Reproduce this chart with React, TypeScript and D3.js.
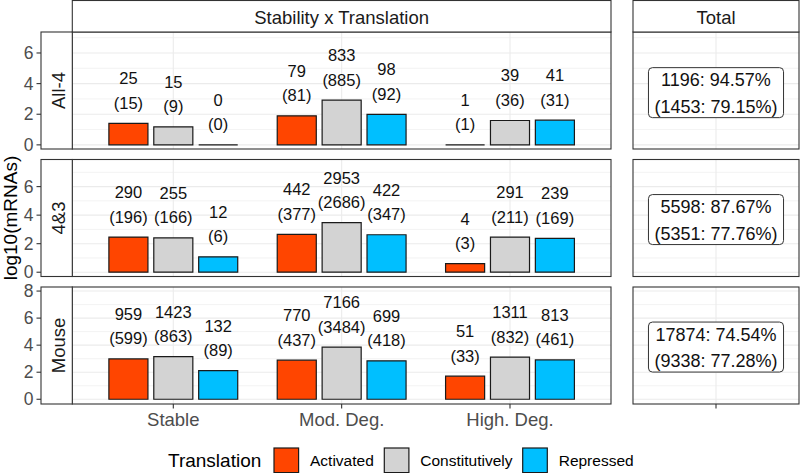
import React from 'react';
import * as d3 from 'd3';

const categories = ['Stable', 'Mod. Deg.', 'High. Deg.'];
const rows = ['All-4', '4&3', 'Mouse'];
const translations = ['Activated', 'Constitutively', 'Repressed'];
const fillColors = ['#FF4500', '#D3D3D3', '#00BFFF'];

// [category][translation]
const countsAll4 = [[25, 15, 0], [79, 833, 98], [1, 39, 41]];
const parenAll4 = [[15, 9, 0], [81, 885, 92], [1, 36, 31]];
const counts43 = [[290, 255, 12], [442, 2953, 422], [4, 291, 239]];
const paren43 = [[196, 166, 6], [377, 2686, 347], [3, 211, 169]];
const countsMouse = [[959, 1423, 132], [770, 7166, 699], [51, 1311, 813]];
const parenMouse = [[599, 863, 89], [437, 3484, 418], [33, 832, 461]];

const totalLine1 = ['1196: 94.57%', '5598: 87.67%', '17874: 74.54%'];
const totalLine2 = ['(1453: 79.15%)', '(5351: 77.76%)', '(9338: 77.28%)'];
const totalLabelY = [3.41, 3.69, 3.86];
const yDomains = [[-0.27, 7.37], [-0.3, 7.9], [-0.35, 8.3]];
const yTicks = [[0, 2, 4, 6], [0, 2, 4, 6], [0, 2, 4, 6, 8]];

const rowCounts = [countsAll4, counts43, countsMouse];
const rowParens = [parenAll4, paren43, parenMouse];

const FONT = '"Liberation Sans", Arial, Helvetica, sans-serif';
const W = 800;
const H = 473;
const stripX0 = 41;
const panelX0 = 72.3;
const panelX1 = 611;
const totX0 = 633;
const totX1 = 799;
const stripTop = 0.5;
const rowTops = [32, 159.5, 287];
const rowH = 117;
const BORDER = '#333333';
const GRID = '#EBEBEB';

function measure(text: string, font: string): number {
  const c = document.createElement('canvas').getContext('2d');
  if (!c) return text.length * 9;
  c.font = font;
  return c.measureText(text).width;
}

export default function App() {
  const x = d3.scalePoint<string>().domain(categories).range([panelX0, panelX1]).padding(0.6);
  const step = x.step();
  const dodge = d3
    .scaleBand<string>()
    .domain(translations)
    .range([-0.4 * step, 0.4 * step])
    .paddingInner(0.13)
    .paddingOuter(0.065);
  const totCenter = (totX0 + totX1) / 2;
  const boxFont = `18px ${FONT}`;

  const elems: React.ReactNode[] = [];

  rows.forEach((row, ri) => {
    const top = rowTops[ri];
    const bottom = top + rowH;
    const y = d3.scaleLinear().domain(yDomains[ri]).range([bottom, top]);
    const [d0, d1] = yDomains[ri];
    const majors = yTicks[ri];
    const minors = d3.range(Math.ceil(d0), Math.floor(d1) + 1).filter((v) => !majors.includes(v));

    [
      [panelX0, panelX1],
      [totX0, totX1],
    ].forEach(([a, b], pi) => {
      elems.push(<rect key={`bg${ri}${pi}`} x={a} y={top} width={b - a} height={rowH} fill="white" />);
      minors.forEach((v) =>
        elems.push(
          <line key={`mn${ri}${pi}${v}`} x1={a} x2={b} y1={y(v)} y2={y(v)} stroke={GRID} strokeWidth={0.6} />
        )
      );
      majors.forEach((v) =>
        elems.push(
          <line key={`mj${ri}${pi}${v}`} x1={a} x2={b} y1={y(v)} y2={y(v)} stroke={GRID} strokeWidth={1.1} />
        )
      );
    });
    categories.forEach((c) =>
      elems.push(
        <line key={`vg${ri}${c}`} x1={x(c)} x2={x(c)} y1={top} y2={bottom} stroke={GRID} strokeWidth={1.1} />
      )
    );
    elems.push(
      <line key={`vgt${ri}`} x1={totCenter} x2={totCenter} y1={top} y2={bottom} stroke={GRID} strokeWidth={1.1} />
    );

    // bars
    categories.forEach((c, ci) => {
      translations.forEach((t, ti) => {
        const n = rowCounts[ri][ci][ti];
        const p = rowParens[ri][ci][ti];
        const v = n > 0 ? Math.log10(n) : 0;
        const bx = (x(c) as number) + (dodge(t) as number);
        const bw = dodge.bandwidth();
        const y0 = y(0);
        const y1 = y(v);
        elems.push(
          <path
            key={`bar${ri}${ci}${ti}`}
            d={`M${bx},${y0}V${y1}H${bx + bw}V${y0}Z`}
            fill={fillColors[ti]}
            stroke="#1a1a1a"
            strokeWidth={1.2}
          />
        );
        const cx = bx + bw / 2;
        elems.push(
          <text key={`l1${ri}${ci}${ti}`} x={cx} y={y1 - 39} textAnchor="middle" fontSize={16.5} fill="#111">
            {String(n)}
          </text>
        );
        elems.push(
          <text key={`l2${ri}${ci}${ti}`} x={cx} y={y1 - 14.5} textAnchor="middle" fontSize={16.5} fill="#111">
            {`(${p})`}
          </text>
        );
      });
    });

    // total label
    const cy = y(totalLabelY[ri]);
    const tw = Math.max(measure(totalLine1[ri], boxFont), measure(totalLine2[ri], boxFont));
    const bw = tw + 12;
    elems.push(
      <rect
        key={`box${ri}`}
        x={totCenter - bw / 2}
        y={cy - 25}
        width={bw}
        height={50}
        rx={4}
        ry={4}
        fill="white"
        stroke="#333"
        strokeWidth={1}
      />
    );
    elems.push(
      <text key={`t1${ri}`} x={totCenter} y={cy - 6.5} textAnchor="middle" fontSize={18} fill="#111">
        {totalLine1[ri]}
      </text>
    );
    elems.push(
      <text key={`t2${ri}`} x={totCenter} y={cy + 20} textAnchor="middle" fontSize={18} fill="#111">
        {totalLine2[ri]}
      </text>
    );

    // borders
    elems.push(
      <rect key={`pb${ri}`} x={panelX0} y={top} width={panelX1 - panelX0} height={rowH} fill="none" stroke={BORDER} strokeWidth={1.1} />
    );
    elems.push(
      <rect key={`tb${ri}`} x={totX0} y={top} width={totX1 - totX0} height={rowH} fill="none" stroke={BORDER} strokeWidth={1.1} />
    );
    // left strip
    elems.push(
      <rect key={`ls${ri}`} x={stripX0} y={top} width={panelX0 - stripX0} height={rowH} fill="white" stroke={BORDER} strokeWidth={1.1} />
    );
    elems.push(
      <text
        key={`lst${ri}`}
        transform={`translate(64.5,${top + rowH / 2}) rotate(-90)`}
        textAnchor="middle"
        fontSize={18.5}
        fill="#1a1a1a"
      >
        {row}
      </text>
    );
    // y ticks
    majors.forEach((v) => {
      elems.push(
        <line key={`yt${ri}${v}`} x1={stripX0 - 4.5} x2={stripX0} y1={y(v)} y2={y(v)} stroke={BORDER} strokeWidth={1.1} />
      );
      elems.push(
        <text key={`ytl${ri}${v}`} x={33.5} y={y(v) + 6.2} textAnchor="end" fontSize={17.5} fill="#4D4D4D">
          {String(v)}
        </text>
      );
    });
  });

  // top strips
  const lastBottom = rowTops[2] + rowH;
  elems.push(
    <rect key="ts1" x={panelX0} y={stripTop} width={panelX1 - panelX0} height={rowTops[0] - stripTop} fill="white" stroke={BORDER} strokeWidth={1.1} />
  );
  elems.push(
    <text key="ts1t" x={(panelX0 + panelX1) / 2} y={23.5} textAnchor="middle" fontSize={18.5} fill="#1a1a1a">
      Stability x Translation
    </text>
  );
  elems.push(
    <rect key="ts2" x={totX0} y={stripTop} width={totX1 - totX0} height={rowTops[0] - stripTop} fill="white" stroke={BORDER} strokeWidth={1.1} />
  );
  elems.push(
    <text key="ts2t" x={totCenter} y={23.5} textAnchor="middle" fontSize={18.5} fill="#1a1a1a">
      Total
    </text>
  );

  // x axis
  categories.forEach((c) => {
    elems.push(
      <line key={`xt${c}`} x1={x(c)} x2={x(c)} y1={lastBottom} y2={lastBottom + 4.5} stroke={BORDER} strokeWidth={1.1} />
    );
    elems.push(
      <text key={`xtl${c}`} x={x(c)} y={426} textAnchor="middle" fontSize={18.5} fill="#4D4D4D">
        {c}
      </text>
    );
  });
  elems.push(
    <line key="xtt" x1={totCenter} x2={totCenter} y1={lastBottom} y2={lastBottom + 4.5} stroke={BORDER} strokeWidth={1.1} />
  );

  // y title
  elems.push(
    <text key="ytitle" transform={`translate(16.5,${(rowTops[0] + lastBottom) / 2}) rotate(-90)`} textAnchor="middle" fontSize={19} fill="#000">
      log10(mRNAs)
    </text>
  );

  // legend
  elems.push(
    <text key="legt" x={168} y={466.5} fontSize={19} fill="#000">
      Translation
    </text>
  );
  const keyX = [274, 384.3, 522.7];
  translations.forEach((t, i) => {
    elems.push(
      <rect key={`lk${i}`} x={keyX[i]} y={448} width={24.6} height={24.6} fill={fillColors[i]} stroke="#1a1a1a" strokeWidth={1.2} />
    );
    elems.push(
      <text key={`lkt${i}`} x={keyX[i] + 36} y={466} fontSize={15.5} fill="#000">
        {t}
      </text>
    );
  });

  return (
    <svg
      width={W}
      height={H}
      style={{ position: 'absolute', left: 0, top: 0, fontFamily: FONT }}
      fontFamily={FONT}
    >
      <rect x={0} y={0} width={W} height={H} fill="white" />
      {elems}
    </svg>
  );
}
